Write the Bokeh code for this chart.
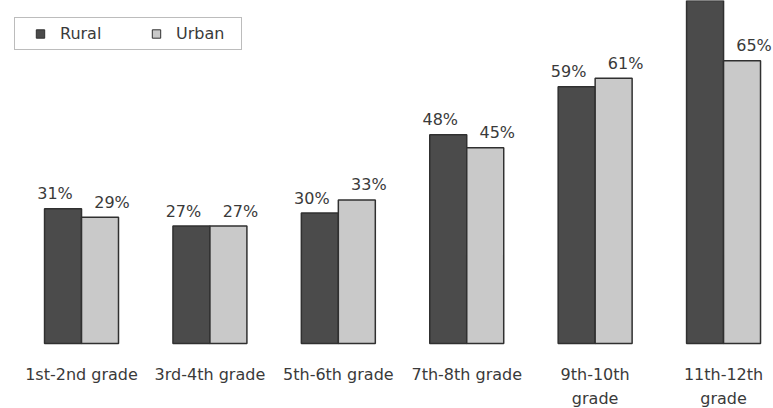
from bokeh.plotting import figure
from bokeh.models import ColumnDataSource, Range1d, Legend, LegendItem
from bokeh.core.properties import value
from bokeh.embed import file_html
from bokeh.resources import INLINE

categories = ["1st-2nd grade", "3rd-4th grade", "5th-6th grade", "7th-8th grade",
              "9th-10th\ngrade", "11th-12th\ngrade"]
rural = [31, 27, 30, 48, 59, 85]
urban = [29, 27, 33, 45, 61, 65]
# the last rural label lies above the visible area in the reference
rural_labels = ["31%", "27%", "30%", "48%", "59%", ""]
urban_labels = ["29%", "27%", "33%", "45%", "61%", "65%"]

FONT = "DejaVu Sans"
TXT = "#3a3a3a"
RURAL_C = "#4b4b4b"
URBAN_C = "#c9c9c9"
EDGE = "#303030"
BW = 0.288

idx = list(range(len(categories)))
src = ColumnDataSource(dict(
    i=idx,
    xr=[i - BW / 2 for i in idx],
    xu=[i + BW / 2 for i in idx],
    rural=rural, urban=urban,
    rl=rural_labels, ul=urban_labels,
    cat=categories, zero=[0] * len(idx),
))

p = figure(width=773, height=408, output_backend="svg", toolbar_location=None,
           x_range=Range1d(-0.631, 5.389), y_range=Range1d(-14.94, 78.85),
           min_border=0, min_border_left=0, min_border_right=0,
           min_border_top=0, min_border_bottom=0)
p.axis.visible = False
p.grid.visible = False
p.outline_line_color = None
p.background_fill_color = "white"
p.border_fill_color = "white"

r_bar = p.vbar(x="xr", top="rural", bottom=0, width=BW, source=src,
               fill_color=RURAL_C, line_color=EDGE, line_width=1.5)
u_bar = p.vbar(x="xu", top="urban", bottom=0, width=BW, source=src,
               fill_color=URBAN_C, line_color=EDGE, line_width=1.5)

p.text(x="xr", y="rural", text="rl", source=src, x_offset=-8, y_offset=-15,
       text_align="center", text_baseline="middle", text_font=value(FONT),
       text_font_size="16px", text_color=TXT)
p.text(x="xu", y="urban", text="ul", source=src, x_offset=12, y_offset=-15,
       text_align="center", text_baseline="middle", text_font=value(FONT),
       text_font_size="16px", text_color=TXT)

p.text(x="i", y="zero", text="cat", source=src, y_offset=21,
       text_align="center", text_baseline="top", text_font=value(FONT),
       text_font_size="16px", text_color=TXT, text_line_height=1.3)

# legend marker renderers (size 0 so they don't show in the plot)
r_leg = p.scatter(x="xr", y="zero", source=src, marker="square", size=0,
                  fill_color=RURAL_C, line_color=EDGE, line_width=1)
u_leg = p.scatter(x="xu", y="zero", source=src, marker="square", size=0,
                  fill_color=URBAN_C, line_color=EDGE, line_width=1)

legend = Legend(items=[LegendItem(label="Rural", renderers=[r_leg]),
                       LegendItem(label="Urban", renderers=[u_leg])],
                orientation="horizontal", location=(14, 358),
                glyph_width=40, glyph_height=21, label_standoff=0,
                label_width=60, label_height=20, spacing=16, padding=5,
                margin=0,
                label_text_font=FONT, label_text_font_size="16px",
                label_text_color=TXT,
                border_line_color="#7a7a7a", border_line_width=1.5,
                background_fill_color="white", background_fill_alpha=1)
p.add_layout(legend, "center")

open("out.html", "w").write(file_html(p, INLINE))
